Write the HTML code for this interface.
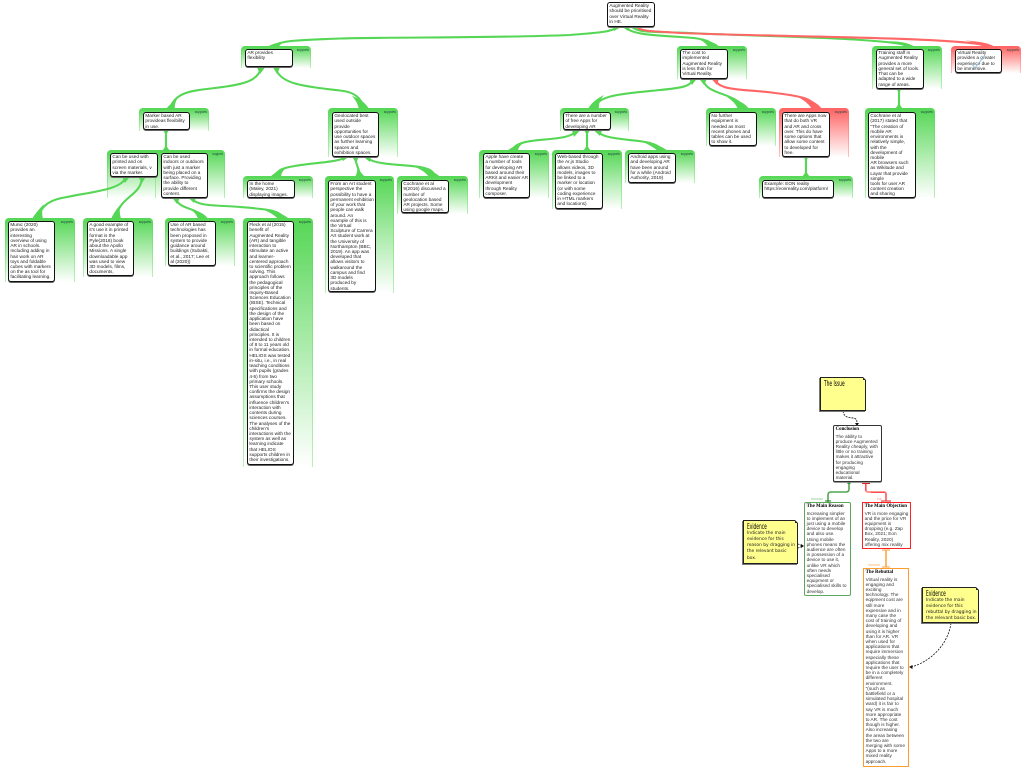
<!DOCTYPE html>
<html><head><meta charset="utf-8"><style>
html,body{margin:0;padding:0;background:#fff;}
#p{position:relative;width:1024px;height:768px;overflow:hidden;background:#fff;font-family:"Liberation Sans",sans-serif;filter:blur(.3px);}
.g,.r{position:absolute;box-sizing:border-box;border:1px solid transparent;border-bottom:0;border-radius:4px 4px 0 0;}
.g{background:linear-gradient(#55d755,#fff) padding-box,linear-gradient(#55d755,#b8f0b8) border-box;}
.r{background:linear-gradient(#ff6464,#fff) padding-box,linear-gradient(#ff6464,#ffc0c0) border-box;}
.g i,.r i{position:absolute;right:1px;top:1px;font:normal 3.2px/4px "Liberation Sans",sans-serif;color:#244;white-space:nowrap;}
.b{position:absolute;box-sizing:border-box;background:#fff;border:1px solid #111;border-radius:3px;box-shadow:0 1px 0 #666;padding:.2px 0 0 1.4px;font-size:4.7px;line-height:5.22px;color:#222;white-space:nowrap;overflow:hidden;}
.c{position:absolute;box-sizing:border-box;background:#fff;border-radius:2px;padding:1px 0 0 1.6px;font-size:4.7px;line-height:5.2px;color:#333;white-space:nowrap;overflow:hidden;}
.c b{display:block;font:bold 4.9px/6.5px "Liberation Serif",serif;color:#000;}
.n{position:absolute;box-sizing:border-box;background:#ffff8e;border:1px solid #222;box-shadow:-1px 1px 0 #777;font:4.4px/6.3px "DejaVu Sans",sans-serif;color:#222;white-space:nowrap;padding:2px 0 0 3px;}
.n u{display:block;height:7.5px;text-decoration:none;font:7.5px/7.5px "DejaVu Sans",sans-serif;transform:scaleX(.58);transform-origin:0 0;color:#000;}
.n:after{content:"";position:absolute;right:-1px;top:-1px;border-style:solid;border-width:0 3px 3px 0;border-color:#fff #fff #222 #777;}
svg{position:absolute;left:0;top:0;}
.l{position:absolute;font-size:3.2px;line-height:4px;white-space:nowrap;}
</style></head><body><div id="p">

<div class="g" style="left:241px;top:46px;width:70px;height:22px"><i>supports</i></div>
<div class="g" style="left:139px;top:108px;width:70px;height:23px"><i>supports</i></div>
<div class="g" style="left:107px;top:150px;width:70px;height:48px"></div>
<div class="g" style="left:155px;top:150px;width:70px;height:48px"><i>support</i></div>
<div class="g" style="left:5px;top:218px;width:70px;height:64px"><i>supports</i></div>
<div class="g" style="left:83px;top:218px;width:70px;height:59px"><i>supports</i></div>
<div class="g" style="left:165px;top:218px;width:70px;height:48px"><i>supports</i></div>
<div class="g" style="left:243px;top:218px;width:70px;height:249px"><i>supports</i></div>
<div class="g" style="left:328px;top:108px;width:70px;height:49px"><i>supports</i></div>
<div class="g" style="left:243px;top:176px;width:70px;height:22px"><i>supports</i></div>
<div class="g" style="left:325px;top:176px;width:69px;height:117px"><i>supports</i></div>
<div class="g" style="left:397px;top:176px;width:71px;height:38px"><i>supports</i></div>
<div class="g" style="left:560px;top:108px;width:69px;height:23px"><i>supports</i></div>
<div class="g" style="left:479px;top:150px;width:70px;height:48px"><i>supports</i></div>
<div class="g" style="left:552px;top:150px;width:70px;height:59px"><i>supports</i></div>
<div class="g" style="left:625px;top:150px;width:70px;height:33px"><i>supports</i></div>
<div class="g" style="left:677px;top:46px;width:70px;height:33px"><i>supports</i></div>
<div class="g" style="left:706px;top:108px;width:70px;height:38px"><i>supports</i></div>
<div class="r" style="left:779px;top:108px;width:70px;height:49px"><i>supports</i></div>
<div class="g" style="left:759px;top:176px;width:94px;height:22px"><i>supports</i></div>
<div class="g" style="left:872px;top:46px;width:70px;height:43px"><i>supports</i></div>
<div class="g" style="left:865px;top:108px;width:70px;height:90px"><i>supports</i></div>
<div class="r" style="left:951px;top:46px;width:70px;height:27px"><i>supports</i></div>

<svg width="1024" height="768" viewBox="0 0 1024 768" fill="none">
<g stroke="#55d755" stroke-width="2.1" stroke-linecap="round">
<path d="M618 27C610 33 590 33 570 35C500 38 400 37 340 38.5C305 40 280 40 274 46"/>
<path d="M626 27C630 34 650 35 680 37C700 38 710 40 714 46"/>
<path d="M632 27C640 34 660 31 700 33.5C780 37 885 38 909 46"/>
<path d="M261 68C258 82 240 85 215 88C190 91 176 92 170 108"/>
<path d="M276 68C279 85 310 87 340 90.5C355 92 361 98 364 108"/>
<path d="M166 131V150"/>
<path d="M126 177C122 190 90 192 67 197C48 200 42 206 37 218"/>
<path d="M142 177C141 197 120 195 116 218"/>
<path d="M176 198C178 210 198 207 203 218"/>
<path d="M192 198C196 207 220 205 240 207C265 209 279 210 284 218"/>
<path d="M345 157C342 162 310 163 295 166C282 168 278 170 275 176"/>
<path d="M355 157C356 165 359 168 360 176"/>
<path d="M367 157C372 165 400 164 420 167C430 169 433 171 435 176"/>
<path d="M693 79C691 87 680 88 660 90C620 94 600 95 593 108"/>
<path d="M703 79C705 95 735 92 744 108"/>
<path d="M806 157V176"/>
<path d="M899 89V108"/>
<path d="M576 131C570 141 535 138 522 143C516 145 514 147 512 150"/>
<path d="M587 131V150"/>
<path d="M598 131C602 140 635 139 650 143C657 145 660 147 663 150"/>
</g>
<path fill="#55d755" d="M268 46.500Q273 43 287 41Q281 43 279 46.500ZM708 46.500Q704 41 698 39Q714 41 719 46.500ZM904 46.500Q900 42 890 41Q908 42 914 46.500ZM166 109Q170 104 177 99Q174 105 175 109ZM359 109Q357 101 352 96Q364 100 369 109ZM162 150.500Q165.500 148 165.500 143L166.500 143Q166.500 148 170 150.500ZM163 130.500Q165.500 133 165.500 137L166.500 137Q166.500 133 169 130.500ZM32 219Q36 212 44 204Q41 212 43 219ZM111 219Q114 212 120 205Q119 212 121 219ZM198 219Q197 214 190 209Q204 212 208 219ZM278 219Q274 214 262 209Q282 212 289 219ZM270 177Q276 171 286 168Q281 172 281 177ZM355 177Q358 172 357 166Q360 172 365 177ZM429 177Q425 171 415 167Q434 170 440 177ZM588 109Q592 101 604 95Q598 102 599 109ZM738 109Q735 102 727 97Q744 101 749 109ZM802 176.500Q805.500 174 805.500 169L806.500 169Q806.500 174 810 176.500ZM803 156.500Q805.500 159 805.500 163L806.500 163Q806.500 159 809 156.500ZM895 108.500Q898.500 106 898.500 101L899.500 101Q899.500 106 903 108.500ZM896 88.500Q898.500 91 898.500 95L899.500 95Q899.500 91 902 88.500ZM507 151Q513 146 525 142Q518 146 518 151ZM583 150.500Q586.500 148 586.500 143L587.500 143Q587.500 148 591 150.500ZM584 130.500Q586.500 133 586.500 137L587.500 137Q587.500 133 590 130.500ZM658 151Q652 146 643 142Q661 145 668 151ZM257 67.500L265 67.500L260 74ZM273 67.500L280 67.500L277 74ZM122 176.500L130 176.500L125 183ZM138 176.500L146 176.500L142 183ZM172 197.500L180 197.500L177 204ZM188 197.500L196 197.500L194 203ZM341 156.500L349 156.500L343 161ZM352 156.500L359 156.500L356 163ZM363 156.500L371 156.500L370 162ZM689 78.500L697 78.500L692 85ZM699 78.500L707 78.500L704 85ZM572 130.500L580 130.500L574 137ZM594 130.500L602 130.500L600 136ZM613 26.500L622 26.500L614 31ZM622 26.500L630 26.500L628 31Z"/>
<g stroke="#ff6666" stroke-width="2.1" stroke-linecap="round">
<path d="M637 27C642 32 655 31 680 33C780 37 960 37 988 46"/>
<path d="M715 79C718 92 750 89 775 93C800 96 812 98 817 108"/>
</g>
<path fill="#ff6666" d="M983 46.500Q975 42 965 40.500Q988 42 994 46.500ZM812 109Q806 100 795 96Q815 99 822 109ZM711 78.500L719 78.500L717 85Z"/>

<g fill="none">
<path d="M849 482V489Q849 492 846 492H831Q828 492 828 495V502" stroke="#88c888" stroke-width="1.8"/>
<path d="M849 482V489Q849 492 846 492H831Q828 492 828 495V502" stroke="#3b963b" stroke-width=".8"/>
<path d="M866 484V490Q866 492 868 492H884Q886 492 886 494V501" stroke="#ff8c8c" stroke-width="1.8"/>
<path d="M865.500 484V491M871 492.500H885M886 493V500" stroke="#f33" stroke-width=".7"/>
<path d="M862 483.500H870M881 501H891" stroke="#d22" stroke-width="1"/>
<path d="M886 550V567" stroke="#fcbb6a" stroke-width="2"/>
<path d="M882 550H890M882 567H890" stroke="#f9a23c" stroke-width="1"/>
<path d="M825 501H831" stroke="#1a7a1a" stroke-width="1"/>
<path d="M843 411C844 419 851 417 855 418.500C857 419.500 857 421 857 424" stroke="#111" stroke-width=".8" stroke-dasharray="2 1"/>
<path d="M951 623C948 645 930 662 911 667" stroke="#111" stroke-width=".8" stroke-dasharray="2 1.200"/>
<path d="M798 544L803 546M798 548L803 546" stroke="#111" stroke-width=".8" stroke-dasharray="1.500 .8"/>
</g>
<path fill="#111" d="M857 426L855 423L859 423ZM909 667L912.500 665L912.500 669ZM804 546L801 544L801 548Z"/>
<path fill="#3b963b" d="M849 481.500L847 484L851 484Z"/>
</svg>

<div class="b" style="left:607px;top:2px;width:48px;height:25px">Augmented Reality<br>should be prioritised<br>over Virtual Reality<br>in HE.</div>
<div class="b" style="left:245px;top:49px;width:48px;height:18px">AR provides<br>flexibility</div>
<div class="b" style="left:143px;top:112px;width:47px;height:18px">Marker based AR<br>provideas flexibility<br>in use.</div>
<div class="b" style="left:110px;top:153px;width:48px;height:24px">Can be used with<br>printed and on<br>screen materials, v<br>via the marker.</div>
<div class="b" style="left:161px;top:153px;width:47px;height:45px">Can be used<br>indoors or outdoors<br>with just a marker<br>being placed on a<br>surface. Providing<br>the ability to<br>provide different<br>content.</div>
<div class="b" style="left:8px;top:221px;width:47px;height:61px">Munic (2020)<br>provides an<br>interesting<br>overview of using<br>AR in schools.<br>Including adding in<br>hair work on AR<br>toys and foldable<br>cubes with markers<br>on the as tool for<br>facilitating learning.</div>
<div class="b" style="left:87px;top:221px;width:47px;height:55px">A good example of<br>it's use it in printed<br>format is the<br>Pyle(2018) book<br>about the Apollo<br>Missions. A single<br>downloadable app<br>was used to view<br>3D models, films,<br>documents,</div>
<div class="b" style="left:168px;top:221px;width:48px;height:45px">Use of AR based<br>technologies has<br>been proposed in<br>system to provide<br>guidance around<br>buildings (Subakti,<br>et al., 2017; Lee et<br>al (2020))</div>
<div class="b" style="left:247px;top:221px;width:47px;height:244px">Fleck et al (2015)<br>benefit of<br>Augmented Reality<br>(AR) and tangible<br>interaction to<br>stimulate an active<br>and learner-<br>centered approach<br>to scientific problem<br>solving. This<br>approach follows<br>the pedagogical<br>principles of the<br>Inquiry-Based<br>Sciences Education<br>(IBSE). Technical<br>specifications and<br>the design of the<br>application have<br>been based on<br>didactical<br>principles. It is<br>intended to children<br>of 8 to 11 years old<br>in formal education.<br>HELIOS was tested<br>in-situ, i.e., in real<br>teaching conditions<br>with pupils (grades<br>4-5) from two<br>primary schools.<br>This user study<br>confirms the design<br>assumptions that<br>influence children's<br>interaction with<br>contents during<br>sciences courses.<br>The analyses of the<br>children's<br>interactions with the<br>system as well as<br>learning indicate<br>that HELIOS<br>supports children in<br>their investigations.</div>
<div class="b" style="left:332px;top:112px;width:47px;height:45px">Geolocated best<br>used outside<br>provide<br>opportunities for<br>use outdoor spaces<br>as further learning<br>spaces and<br>exhibition spaces.</div>
<div class="b" style="left:247px;top:180px;width:48px;height:18px">In the home<br>(Maley, 2021)<br>displaying images.</div>
<div class="b" style="left:328px;top:180px;width:48px;height:112px">From an Art student<br>perspective the<br>possibility to have a<br>permanent exhibition<br>of your work that<br>people can walk<br>around. An<br>example of this is<br>the Virtual<br>Sculpture of Carrera<br>Art student work at<br>the University of<br>Northampton (BBC,<br>2019). An app was<br>developed that<br>allows visitors to<br>walkaround the<br>campus and find<br>3D models<br>produced by<br>students.</div>
<div class="b" style="left:401px;top:180px;width:48px;height:33px">Cochrane et al<br>9(2016) discussed a<br>number of<br>geolocation based<br>AR projects. Some<br>using google maps.</div>
<div class="b" style="left:563px;top:112px;width:48px;height:18px">There are a number<br>of free Apps for<br>developing AR</div>
<div class="b" style="left:483px;top:153px;width:47px;height:45px">Apple have create<br>a number of tools<br>for developing AR<br>based around their<br>ARKit and easier AR<br>development<br>through Reality<br>composer.</div>
<div class="b" style="left:555px;top:153px;width:48px;height:56px">Web-based through<br>the Ar.js Studio<br>allows videos, 3D<br>models, images to<br>be linked to a<br>marker or location<br>(or with some<br>coding experience<br>in HTML markers<br>and locations)</div>
<div class="b" style="left:628px;top:153px;width:48px;height:30px">Android apps using<br>and developing AR<br>have been around<br>for a while (Android<br>Authority, 2019)</div>
<div class="b" style="left:680px;top:49px;width:48px;height:30px">The cost to<br>implemented<br>Augmented Reality<br>is less than for<br>Virtual Reality.</div>
<div class="b" style="left:709px;top:112px;width:48px;height:34px">No further<br>equipment is<br>needed as most<br>recent phones and<br>tables can be used<br>to show it.</div>
<div class="b" style="left:782px;top:112px;width:48px;height:45px">There are Apps now<br>that do both VR<br>and AR and cross<br>over. This do have<br>some options that<br>allow some content<br>to developed for<br>free.</div>
<div class="b" style="left:762px;top:180px;width:72px;height:18px">Example: EON reality<br>https://eonreality.com/platform/</div>
<div class="b" style="left:876px;top:49px;width:48px;height:40px">Training staff in<br>Augmented Reality<br>provides a more<br>general set of tools.<br>That can be<br>adapted to a wide<br>range of areas.</div>
<div class="b" style="left:868px;top:112px;width:48px;height:86px">Cochrane et al<br>(2017) stated that<br>"The creation of<br>mobile AR<br>environments is<br>relatively simple,<br>with the<br>development of<br>mobile<br>AR browsers such<br>as Wikitude and<br>Layar that provide<br>simple<br>tools for user AR<br>content creation<br>and sharing</div>
<div class="b" style="left:955px;top:49px;width:47px;height:24px">Virtual Reality<br>provides a greater<br>experience due to<br>be immersive.</div>
<svg width="1024" height="768" viewBox="0 0 1024 768" fill="none"><path d="M971 63L975 68L985 55" stroke="#8cc4dc" stroke-width="1"/></svg>

<div class="n" style="left:820px;top:377px;width:46px;height:34px"><u>The Issue</u></div>
<div class="c" style="left:833px;top:425px;width:49px;height:57px;border:1px solid #333;box-shadow:0 .7px 0 #777"><b>Conclusion</b>The ability to<br>produce Augmented<br>Reality cheaply, with<br>little or no training<br>makes it attractive<br>for producing<br>engaging<br>educational<br>material.</div>
<div class="c" style="left:804px;top:502px;width:47px;height:94px;border:1px solid #5aa85a"><b>The Main Reason</b>Increasing simpler<br>to implement of an<br>just using a mobile<br>device to develop<br>and also use.<br>Using mobile<br>phones means the<br>audience are often<br>in possession of a<br>device to use it,<br>unlike VR which<br>often needs<br>specialised<br>equipment or<br>specialised skills to<br>develop.</div>
<div class="c" style="left:862px;top:502px;width:49px;height:47px;border:1px solid #f22;border-radius:0"><b>The Main Objection</b>VR is more engaging<br>and the price for VR<br>equipment is<br>dropping (e.g. Zap<br>Box, 2021; Eon<br>Reality, 2020)<br>offering mix reality</div>
<div class="c" style="left:863px;top:568px;width:46px;height:199px;border:1px solid #fa9d2e;border-radius:0"><b>The Rebuttal</b>Virtual reality is<br>engaging and<br>exciting<br>technology. The<br>eqipment cost are<br>still more<br>expensive and in<br>many case the<br>cost of training of<br>developing and<br>using it is higher<br>than for AR. VR<br>when used for<br>applications that<br>require immersion<br>especially these<br>applications that<br>require the user to<br>be in a completely<br>different<br>environment.<br>"(such as<br>battlefield or a<br>simulated hospital<br>ward) it is fair to<br>say VR is much<br>more appropriate<br>to AR. The cost<br>though is higher.<br>Also increasing<br>the areas between<br>the two are<br>merging with some<br>Apps to a more<br>mixed reality<br>approach.</div>
<div class="n" style="left:743px;top:520px;width:55px;height:44px"><u>Evidence</u>Indicate the main<br>evidence for this<br>reason by dragging in<br>the relevant basic<br>box.</div>
<div class="n" style="left:922px;top:587px;width:57px;height:36px"><u>Evidence</u>Indicate the main<br>evidence for this<br>rebuttal by dragging in<br>the relevant basic box.</div>
<div class="l" style="left:811px;top:497px;color:#8c8">because</div>
<div class="l" style="left:877px;top:497px;color:#f99">but</div>
<div class="l" style="left:868px;top:563px;color:#f9b565">however</div>
</div></body></html>
